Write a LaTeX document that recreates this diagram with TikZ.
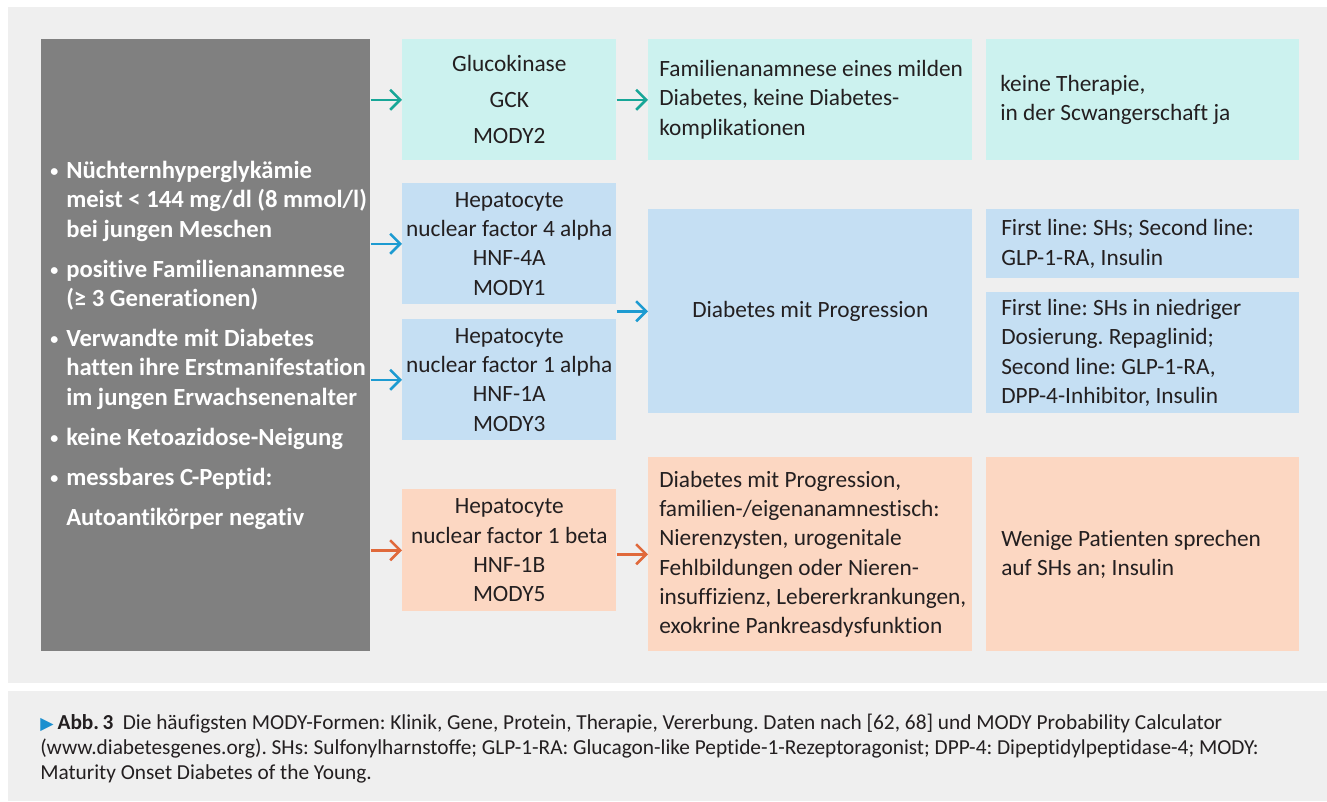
\documentclass[tikz,border=0pt]{standalone}
\usepackage{fontspec}
\setmainfont[RawFeature={-liga;-clig;-dlig;-calt}]{Carlito}
\newfontfamily\symfont{DejaVu Sans}
\usetikzlibrary{arrows.meta,calc}
\frenchspacing
\definecolor{panel}{HTML}{EFEFEF}
\definecolor{grayfill}{HTML}{808080}
\definecolor{tealfill}{HTML}{CCF2EF}
\definecolor{bluefill}{HTML}{C5DFF3}
\definecolor{orangefill}{HTML}{FCD7C2}
\definecolor{tealarrow}{HTML}{17A697}
\definecolor{bluearrow}{HTML}{1D9BD1}
\definecolor{orangearrow}{HTML}{E0693B}
\definecolor{ink}{HTML}{231F20}
\definecolor{capblue}{HTML}{1B8FCF}
\newcommand\itembullet{\llap{\raisebox{1.5pt}{\fontsize{12pt}{12pt}\selectfont\textbullet}\hspace{6pt}}}
\begin{document}
\frenchspacing
\begin{tikzpicture}[x=0.75pt,y=-0.75pt,
  every node/.style={text=ink, font=\fontsize{17.5pt}{22pt}\selectfont\frenchspacing},
  cell/.style={anchor=north west, inner sep=0pt, draw=none, align=center},
  graycell/.style={cell, fill=grayfill},
  tealcell/.style={cell, fill=tealfill},
  bluecell/.style={cell, fill=bluefill},
  orangecell/.style={cell, fill=orangefill},
  sz/.style 2 args={minimum width=#1*0.75pt, minimum height=#2*0.75pt},
  lefttext/.style={anchor=west, align=left, inner sep=0pt},
  arr/.style={line width=1.9pt, -{Straight Barb[length=7.5pt,width=15pt]}},
  tarr/.style={arr, draw=tealarrow},
  barr/.style={arr, draw=bluearrow},
  oarr/.style={arr, draw=orangearrow}]
\useasboundingbox (0,0) rectangle (1327,801);
\fill[white] (0,0) rectangle (1327,801);
\fill[panel] (8,7) rectangle (1327,683);
\fill[panel] (8,691) rectangle (1327,801);

% column 1
\node[graycell, sz={329}{612}] (gray) at (41,39) {};
\node[lefttext, text=white, font=\bfseries\fontsize{18.5pt}{22pt}\selectfont\frenchspacing] (graytext) at ([xshift=25*0.75pt]gray.west)
{\itembullet Nüchternhyperglykämie\\
meist < 144 mg/dl (8 mmol/l)\\
bei jungen Meschen\\[8pt]
\itembullet positive Familienanamnese\\
(≥ 3 Generationen)\\[8pt]
\itembullet Verwandte mit Diabetes\\
hatten ihre Erstmanifestation\\
im jungen Erwachsenenalter\\[8pt]
\itembullet keine Ketoazidose-Neigung\\[8pt]
\itembullet messbares C-Peptid:\\[8pt]
Autoantikörper negativ};

% column 2
\node[tealcell, sz={214}{121}] (gck) at (402,39) {Glucokinase\\[5pt]GCK\\[5pt]MODY2};
\node[bluecell, sz={214}{121}] (hnf4) at (402,183) {Hepatocyte\\nuclear factor 4 alpha\\HNF-4A\\MODY1};
\node[bluecell, sz={214}{121}] (hnf1a) at (402,319) {Hepatocyte\\nuclear factor 1 alpha\\HNF-1A\\MODY3};
\node[orangecell, sz={214}{122}] (hnf1b) at (402,489) {Hepatocyte\\nuclear factor 1 beta\\HNF-1B\\MODY5};

% column 3
\node[tealcell, sz={324}{121}] (fam) at (648,39) {};
\node[lefttext] (famtext) at ([xshift=11*0.75pt]fam.west) {Familienanamnese eines milden\\Diabetes, keine Diabetes-\\komplikationen};
\node[bluecell, sz={324}{204}] (prog) at (648,209) {Diabetes mit Progression};
\node[orangecell, sz={324}{194}] (ren) at (648,457) {};
\node[lefttext] (rentext) at ([xshift=11*0.75pt]ren.west) {Diabetes mit Progression,\\familien-/eigenanamnestisch:\\Nierenzysten, urogenitale\\Fehlbildungen oder Nieren-\\insuffizienz, Lebererkrankungen,\\exokrine Pankreasdysfunktion};

% column 4
\node[tealcell, sz={313}{121}] (ther) at (986,39) {};
\node[lefttext] (thertext) at ([xshift=14*0.75pt]ther.west) {keine Therapie,\\in der Scwangerschaft ja};
\node[bluecell, sz={313}{69}] (sha) at (986,209) {};
\node[lefttext] (shatext) at ([xshift=15*0.75pt]sha.west) {First line: SHs; Second line:\\GLP-1-RA, Insulin};
\node[bluecell, sz={313}{121}] (shb) at (986,292) {};
\node[lefttext] (shbtext) at ([xshift=15*0.75pt]shb.west) {First line: SHs in niedriger\\Dosierung. Repaglinid;\\Second line: GLP-1-RA,\\DPP-4-Inhibitor, Insulin};
\node[orangecell, sz={313}{194}] (wen) at (986,457) {};
\node[lefttext] (wentext) at ([xshift=15*0.75pt]wen.west) {Wenige Patienten sprechen\\auf SHs an; Insulin};

% arrows
\draw[tarr] (gray.east |- gck.west) -- (gck.west);
\draw[barr] (gray.east |- hnf4.west) -- (hnf4.west);
\draw[barr] (gray.east |- hnf1a.west) -- (hnf1a.west);
\draw[oarr] (gray.east |- hnf1b.west) -- (hnf1b.west);
\draw[tarr] (gck.east) -- (fam.west);
\draw[barr] (hnf4.east |- prog.west) -- (prog.west);
\draw[oarr] (hnf1b.east |- ren.west) -- (ren.west);

% caption
\node[anchor=base west, align=left, inner sep=0pt, font=\fontsize{16pt}{18.75pt}\selectfont\frenchspacing] (caption) at (40,779)
{{\color{capblue}\symfont\fontsize{13pt}{13pt}\selectfont ▶}\hspace{3pt}\textbf{Abb.\,3}\hspace{7pt}Die häufigsten MODY-Formen: Klinik, Gene, Protein, Therapie, Vererbung. Daten nach [62, 68] und MODY Probability Calculator\\
(www.diabetesgenes.org). SHs: Sulfonylharnstoffe; GLP-1-RA: Glucagon-like Peptide-1-Rezeptoragonist; DPP-4: Dipeptidylpeptidase-4; MODY:\\
Maturity Onset Diabetes of the Young.};
\end{tikzpicture}
\end{document}
